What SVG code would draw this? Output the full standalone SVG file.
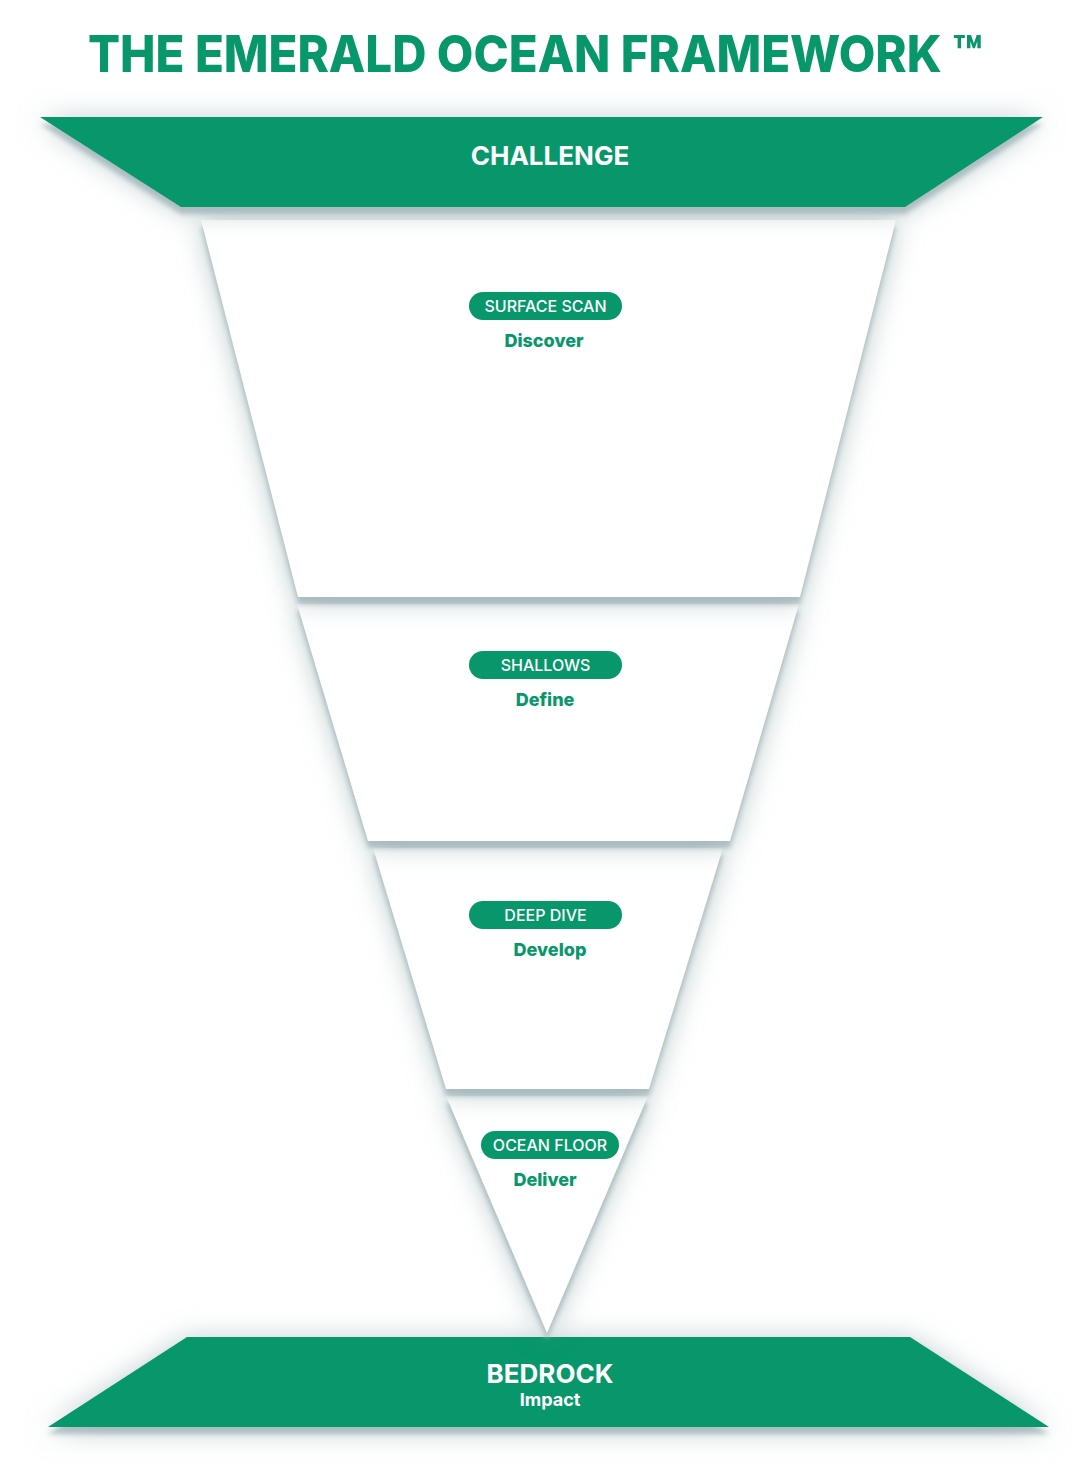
<svg xmlns="http://www.w3.org/2000/svg" width="1091" height="1472" viewBox="0 0 1091 1472">
<defs>
<filter id="sh" x="-20%" y="-40%" width="140%" height="180%" color-interpolation-filters="sRGB">
<feGaussianBlur in="SourceAlpha" stdDeviation="14" result="b1"/>
<feOffset in="b1" dy="3" result="o1"/>
<feFlood flood-color="#6f8d92" flood-opacity="0.5"/>
<feComposite in2="o1" operator="in" result="s1"/>
<feGaussianBlur in="SourceAlpha" stdDeviation="2.5" result="b2"/>
<feOffset in="b2" dy="7" result="o2"/>
<feFlood flood-color="#9db3b6" flood-opacity="0.75"/>
<feComposite in2="o2" operator="in" result="s2"/>
<feMerge><feMergeNode in="s1"/><feMergeNode in="s2"/><feMergeNode in="SourceGraphic"/></feMerge>
</filter>
<style>
.band{fill:#07976A;filter:url(#sh);}
.piece{fill:#FFFFFF;filter:url(#sh);}
.pill{fill:#07976A;}
.pilltxt{font-family:Inter,"Liberation Sans",sans-serif;font-size:16px;font-weight:500;fill:#FFFFFF;text-anchor:middle;}
.sub{font-family:Inter,"Liberation Sans",sans-serif;font-size:18px;font-weight:800;fill:#07976A;text-anchor:middle;}
.bandtxt{font-family:Inter,"Liberation Sans",sans-serif;font-size:26px;font-weight:700;fill:#FFFFFF;text-anchor:middle;}
.bandsub{font-family:Inter,"Liberation Sans",sans-serif;font-size:18px;font-weight:700;fill:#FFFFFF;text-anchor:middle;}
.title{font-family:Inter,"Liberation Sans",sans-serif;font-size:51px;font-weight:800;fill:#07976A;text-anchor:middle;}
</style>
</defs>
<rect width="1091" height="1472" fill="#FFFFFF"/>
<text class="title" x="535.5" y="72" textLength="895" lengthAdjust="spacingAndGlyphs">THE EMERALD OCEAN FRAMEWORK ™</text>

<g id="bedrock">
<polygon class="band" points="187,1337 910,1337 1049,1427 48,1427"/>
<text class="bandtxt" x="550" y="1383">BEDROCK</text>
<text class="bandsub" x="550" y="1406">Impact</text>
</g>
<g id="ocean-floor">
<polygon class="piece" points="446,1096 648,1096 547,1333"/>
<rect class="pill" x="481" y="1131" width="138" height="28" rx="14"/>
<text class="pilltxt" x="550" y="1151">OCEAN FLOOR</text>
<text class="sub" x="545" y="1186">Deliver</text>
</g>
<g id="deep-dive">
<polygon class="piece" points="373,848 723,848 649,1089 446,1089"/>
<rect class="pill" x="469" y="901" width="153" height="28" rx="14"/>
<text class="pilltxt" x="545.5" y="921">DEEP DIVE</text>
<text class="sub" x="550" y="956">Develop</text>
</g>
<g id="shallows">
<polygon class="piece" points="297,604 799,604 730,841 368,841"/>
<rect class="pill" x="469" y="651" width="153" height="28" rx="14"/>
<text class="pilltxt" x="545.5" y="671">SHALLOWS</text>
<text class="sub" x="545" y="706">Define</text>
</g>
<g id="surface-scan">
<polygon class="piece" points="201,220 896,220 800,597 298,597"/>
<rect class="pill" x="469" y="292" width="153" height="28" rx="14"/>
<text class="pilltxt" x="545.5" y="312">SURFACE SCAN</text>
<text class="sub" x="544" y="347">Discover</text>
</g>
<g id="challenge">
<polygon class="band" points="40,117 1043,117 905,207 181,207"/>
<text class="bandtxt" x="550" y="165">CHALLENGE</text>
</g>
<g id="connectors"/>
</svg>
